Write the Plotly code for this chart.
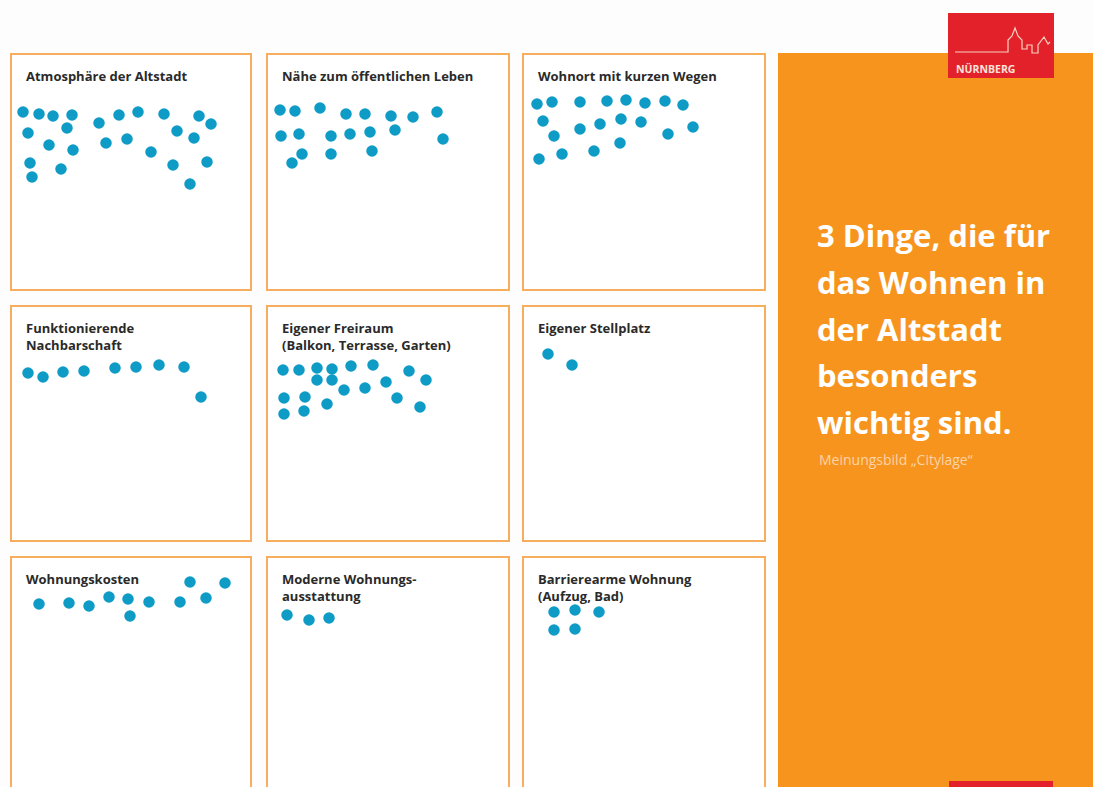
import plotly.graph_objects as go

W, H = 1093, 787

# ---------------- data ----------------
titles = [
    "Atmosphäre der Altstadt",
    "Nähe zum öffentlichen Leben",
    "Wohnort mit kurzen Wegen",
    "Funktionierende\nNachbarschaft",
    "Eigener Freiraum\n(Balkon, Terrasse, Garten)",
    "Eigener Stellplatz",
    "Wohnungskosten",
    "Moderne Wohnungs-\nausstattung",
    "Barrierearme Wohnung\n(Aufzug, Bad)",
]

# sticky-dot positions inside each board (board-local units)
atmo_x = [12, 28, 42, 61, 88, 108, 127, 153, 188, 200, 17, 56, 166, 183, 38, 62, 95, 116, 140, 19, 50, 162, 196, 21, 179]
atmo_y = [58, 60, 62, 61, 69, 61, 58, 60, 62, 70, 79, 74, 77, 84, 91, 96, 89, 85, 98, 109, 115, 111, 108, 123, 130]
naehe_x = [13, 28, 53, 79, 98, 124, 146, 170, 14, 32, 64, 83, 103, 128, 176, 35, 64, 105, 25]
naehe_y = [56, 57, 54, 60, 60, 62, 63, 58, 82, 80, 82, 80, 78, 76, 85, 100, 100, 97, 109]
wege_x = [14, 29, 57, 84, 103, 122, 142, 160, 20, 57, 77, 98, 118, 170, 31, 145, 97, 71, 39, 16]
wege_y = [50, 48, 48, 47, 46, 49, 47, 51, 67, 75, 70, 65, 68, 73, 82, 80, 89, 97, 100, 105]
nachbar_x = [17, 32, 52, 73, 104, 125, 148, 173, 190]
nachbar_y = [67, 71, 66, 65, 62, 61, 59, 61, 91]
frei_x = [16, 32, 50, 65, 84, 106, 142, 50, 65, 119, 159, 77, 98, 17, 38, 130, 60, 153, 17, 37]
frei_y = [64, 64, 62, 63, 60, 59, 65, 74, 74, 76, 74, 84, 82, 92, 91, 92, 98, 101, 108, 105]
stell_x = [25, 49]
stell_y = [48, 59]
kosten_x = [28, 58, 78, 98, 117, 138, 169, 179, 195, 214, 119]
kosten_y = [47, 46, 49, 40, 42, 45, 45, 25, 41, 26, 59]
modern_x = [20, 42, 62]
modern_y = [58, 63, 61]
barriere_x = [31, 52, 76, 31, 52]
barriere_y = [55, 53, 55, 73, 72]

dots_x = [atmo_x, naehe_x, wege_x, nachbar_x, frei_x, stell_x, kosten_x, modern_x, barriere_x]
dots_y = [atmo_y, naehe_y, wege_y, nachbar_y, frei_y, stell_y, kosten_y, modern_y, barriere_y]

headline_lines = ["3 Dinge, die für", "das Wohnen in", "der Altstadt", "besonders", "wichtig sind."]
subtitle = "Meinungsbild „Citylage“"
logo_text = "NÜRNBERG"

# ---------------- layout / style ----------------
col_x0 = [11, 267, 523]
col_x1 = [251, 509, 765]
row_y0 = [54, 306, 557]
row_y1 = [290, 541, 787]

DOT = "#0E9CC6"
BORDER = "#F6AE5E"
ORANGE = "#F7941E"
RED = "#E3212B"
TITLE_FONT = "Open Sans"


def px(x):
    return x / W


def py(y):
    return 1 - y / H


fig = go.Figure()
shapes = []
annotations = []
layout_axes = {}

for i in range(9):
    r, c = divmod(i, 3)
    x0, x1 = col_x0[c], col_x1[c]
    y0, y1 = row_y0[r], row_y1[r]
    k = i + 1
    suf = "" if k == 1 else str(k)
    fig.add_trace(go.Scatter(
        x=dots_x[i], y=dots_y[i], mode="markers",
        xaxis="x" + suf, yaxis="y" + suf,
        marker=dict(size=11.5, color=DOT, line=dict(width=0)),
        hoverinfo="skip", showlegend=False, cliponaxis=False,
    ))
    layout_axes["xaxis" + suf] = dict(domain=[px(x0), px(x1)], range=[0, x1 - x0],
                                      visible=False, fixedrange=True, anchor="y" + suf)
    layout_axes["yaxis" + suf] = dict(domain=[py(y1), py(y0)], range=[y1 - y0, 0],
                                      visible=False, fixedrange=True, anchor="x" + suf)
    # board frame
    bottom = y1 + 20 if r == 2 else y1
    shapes.append(dict(type="rect", xref="paper", yref="paper",
                       x0=px(x0), x1=px(x1), y0=py(bottom), y1=py(y0),
                       fillcolor="white", line=dict(color=BORDER, width=2), layer="below"))
    # board title
    annotations.append(dict(
        text=titles[i].replace("\n", "<br>"), xref="paper", yref="paper",
        x=px(x0 + 14), y=py(y0 + 12), align="left",
        xanchor="left", yanchor="top", showarrow=False, borderpad=0,
        font=dict(family=TITLE_FONT, size=13, color="#2a2a2a", weight="bold"),
    ))

# orange side panel
shapes.append(dict(type="rect", xref="paper", yref="paper",
                   x0=px(778), x1=px(W + 5), y0=py(H + 5), y1=py(53),
                   fillcolor=ORANGE, line=dict(width=0), layer="below"))
# logo
shapes.append(dict(type="rect", xref="paper", yref="paper",
                   x0=px(948), x1=px(1054), y0=py(78), y1=py(13),
                   fillcolor=RED, line=dict(width=0), layer="above"))
skyline = [(955, 52), (1008, 52), (1008, 40), (1012, 36), (1015, 28), (1018, 36), (1022, 40),
           (1022, 49), (1027, 49), (1027, 45), (1032, 45), (1032, 53), (1038, 53), (1038, 45),
           (1044, 37), (1048, 44), (1050, 42)]
path = "M " + " L ".join(f"{px(a):.5f},{py(b):.5f}" for a, b in skyline)
shapes.append(dict(type="path", xref="paper", yref="paper", path=path,
                   line=dict(color="#F8D2C0", width=1.2), layer="above"))
annotations.append(dict(text=logo_text, xref="paper", yref="paper", x=px(954), y=py(69),
                        xanchor="left", yanchor="middle", showarrow=False,
                        font=dict(family="Open Sans", size=10.5, color="#FBE3DA", weight="bold")))
# bottom red tab
shapes.append(dict(type="rect", xref="paper", yref="paper",
                   x0=px(949), x1=px(1053), y0=py(H + 5), y1=py(781),
                   fillcolor=RED, line=dict(width=0), layer="above"))

# headline
for j, line in enumerate(headline_lines):
    annotations.append(dict(
        text=line, xref="paper", yref="paper",
        x=px(815), y=py(235 + 46.8 * j),
        xanchor="left", yanchor="middle", showarrow=False,
        font=dict(family="Open Sans", size=31, color="white", weight="bold"),
    ))
annotations.append(dict(text=subtitle, xref="paper", yref="paper", x=px(817), y=py(459),
                        xanchor="left", yanchor="middle", showarrow=False,
                        font=dict(family="Open Sans", size=14, color="#FBD3A6")))

fig.update_layout(
    width=W, height=H,
    margin=dict(l=0, r=0, t=0, b=0),
    paper_bgcolor="#FDFDFD", plot_bgcolor="rgba(0,0,0,0)",
    shapes=shapes, annotations=annotations, showlegend=False,
    **layout_axes,
)

fig.write_html("out.html", config={"displayModeBar": False},
               post_script="document.body.style.margin='0';document.body.style.overflow='hidden';")
